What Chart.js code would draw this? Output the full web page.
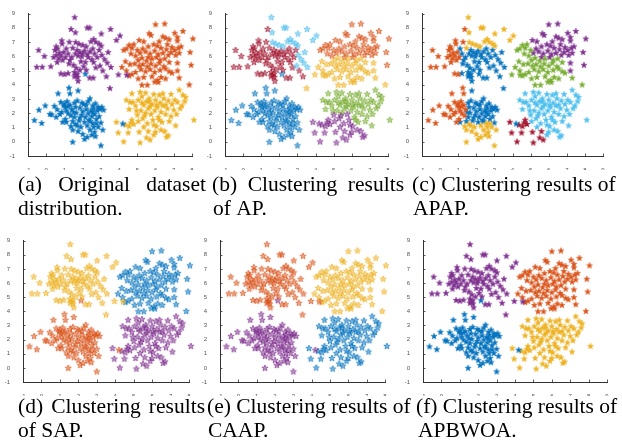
<!DOCTYPE html>
<html>
<head>
<meta charset="utf-8">
<script src="https://cdn.jsdelivr.net/npm/chart.js@4.4.1/dist/chart.umd.min.js"></script>
<style>
  body { margin: 0; background: #fff; }
  #page { position: relative; width: 622px; height: 442px; overflow: hidden; background: #fff; }
  #page canvas { position: absolute; }
</style>
</head>
<body>
<div id="page"><canvas id="captions" width="622" height="442" style="left:0;top:0"></canvas></div>
<script>
// the same dataset is plotted in every panel, only the cluster colours change
const topLeft = [
  [1.56, 8.75], [1.36, 7.92], [1.60, 7.69], [2.25, 8.02], [2.38, 8.02], [3.02, 7.60], [3.53, 7.92],
  [4.05, 7.46], [3.85, 7.15], [-0.42, 6.45], [-0.10, 6.02], [-0.52, 5.26], [-0.22, 5.26], [0.25, 5.30],
  [0.85, 7.12], [0.87, 6.90], [0.55, 6.70], [0.48, 6.45], [0.62, 6.55], [0.72, 6.25], [0.55, 6.10],
  [0.80, 6.05], [0.95, 6.30], [0.68, 5.85], [0.90, 5.75], [0.60, 5.60], [1.27, 7.02], [1.62, 7.00],
  [1.80, 6.88], [2.00, 6.80], [2.60, 7.22], [2.72, 7.02], [2.90, 6.90], [3.02, 6.75], [2.45, 7.05],
  [2.20, 6.70], [1.45, 6.60], [1.70, 6.45], [1.85, 6.30], [2.00, 6.20], [2.10, 6.40], [1.60, 6.20],
  [1.75, 6.05], [1.95, 6.00], [2.25, 6.15], [2.40, 6.35], [2.55, 6.55], [2.65, 6.20], [2.30, 5.95],
  [2.50, 5.80], [1.90, 5.65], [2.15, 5.60], [1.40, 5.95], [1.25, 5.50], [1.50, 5.40], [1.65, 5.20],
  [2.90, 6.45], [3.05, 6.10], [3.20, 5.80], [3.35, 5.55], [3.55, 5.25], [2.95, 5.35], [0.80, 4.80],
  [1.00, 4.75], [1.20, 4.82], [1.55, 4.90], [1.62, 4.70], [1.70, 4.78], [1.55, 4.60], [1.72, 4.55],
  [1.75, 4.28], [2.38, 4.50], [2.58, 4.50], [2.72, 5.22], [3.30, 4.60], [3.50, 3.77], [3.96, 4.73],
  [4.42, 4.70], [1.10, 6.55], [1.20, 6.20], [2.80, 5.95], [3.40, 6.30], [1.30, 5.75], [2.05, 5.30],
  [0.40, 5.95], [1.05, 5.95], [2.60, 5.60], [3.10, 5.00], [1.85, 5.05], [2.20, 5.05]
];
const topRight = [
  [6.00, 8.25], [6.50, 8.30], [5.65, 7.62], [5.75, 7.50], [7.50, 7.78], [7.05, 7.65], [8.05, 7.25],
  [6.40, 7.40], [6.55, 7.30], [6.75, 7.20], [7.20, 7.35], [7.20, 7.10], [5.10, 7.15], [5.35, 7.05],
  [4.55, 6.80], [4.70, 6.60], [4.40, 6.55], [5.30, 6.55], [5.60, 6.70], [5.90, 6.85], [6.10, 6.75],
  [6.30, 6.60], [6.60, 6.50], [6.90, 6.65], [7.05, 6.45], [7.25, 6.60], [7.40, 6.70], [7.90, 6.30],
  [4.65, 6.20], [4.90, 6.05], [5.15, 6.25], [5.45, 6.35], [5.70, 6.20], [5.95, 6.40], [6.15, 6.15],
  [6.40, 6.25], [6.70, 6.10], [6.85, 6.30], [7.10, 6.10], [7.30, 6.25], [5.05, 5.75], [5.25, 5.90],
  [5.50, 5.70], [5.80, 5.85], [6.05, 5.95], [6.25, 5.75], [6.50, 5.85], [4.35, 5.65], [4.60, 5.45],
  [4.85, 5.50], [5.10, 5.35], [5.30, 5.45], [5.55, 5.30], [5.75, 5.50], [6.00, 5.35], [6.20, 5.55],
  [6.45, 5.30], [6.75, 5.60], [7.20, 5.55], [7.95, 5.40], [4.15, 5.25], [4.40, 5.00], [4.70, 4.75],
  [4.90, 4.90], [5.20, 5.10], [5.45, 4.95], [5.70, 5.10], [5.95, 4.90], [6.25, 5.05], [6.55, 5.15],
  [6.75, 4.95], [7.20, 5.00], [4.55, 4.65], [5.05, 4.45], [5.35, 4.55], [5.80, 4.60], [6.10, 4.35],
  [6.30, 4.55], [6.55, 4.45], [5.95, 4.22], [6.15, 4.20], [5.25, 4.00], [5.55, 4.00], [7.30, 4.50],
  [7.85, 4.02], [6.90, 4.85], [4.80, 6.85], [5.00, 6.45], [6.20, 7.05], [4.25, 6.45], [5.60, 5.95],
  [6.65, 6.85]
];
const bottomLeft = [
  [-0.65, 1.52], [-0.40, 2.25], [-0.25, 1.32], [-0.05, 2.55], [0.20, 1.95], [0.30, 1.92], [0.45, 2.52],
  [0.60, 2.28], [0.55, 1.75], [0.65, 3.40], [0.80, 2.80], [0.85, 2.10], [0.95, 2.55], [1.00, 2.70],
  [1.05, 2.45], [1.05, 1.60], [1.10, 1.40], [1.15, 2.85], [1.20, 2.00], [1.25, 3.80], [1.30, 3.40],
  [1.30, 2.60], [1.35, 1.85], [1.35, 1.10], [1.40, 2.30], [1.45, 1.45], [1.45, 0.85], [1.45, 0.00],
  [1.55, 1.75], [1.55, 2.75], [1.60, 1.25], [1.65, 2.05], [1.70, 2.90], [1.75, 3.60], [1.75, 0.75],
  [1.80, 1.50], [1.85, 2.40], [1.90, 1.05], [1.95, 1.90], [2.00, 2.15], [2.00, 0.55], [2.05, 2.65],
  [2.10, 1.40], [2.10, 0.20], [2.15, 1.75], [2.20, 2.30], [2.25, 1.15], [2.30, 2.00], [2.30, 2.85],
  [2.35, 1.55], [2.40, 0.85], [2.40, 3.05], [2.45, 2.20], [2.50, 1.80], [2.50, 0.50], [2.55, 1.30],
  [2.55, 2.55], [2.60, 2.35], [2.65, 0.70], [2.65, 1.95], [2.70, 2.70], [2.70, 0.40], [2.75, 1.60],
  [2.80, 2.20], [2.85, 1.05], [2.85, 2.45], [2.90, 1.80], [2.95, 2.30], [3.00, -0.25], [3.00, 1.35],
  [3.05, 2.45], [3.15, 2.25], [3.10, 0.85], [2.15, 4.78], [4.20, 1.28], [1.20, 2.50], [0.90, 1.40],
  [1.60, 2.45], [2.20, 2.60], [1.85, 1.70], [2.40, 1.45], [1.10, 2.20], [2.60, 1.05], [1.70, 1.15],
  [1.95, 2.75], [2.55, 2.10], [1.50, 2.10], [2.75, 1.30], [0.75, 1.95], [2.25, 0.35]
];
const bottomRight = [
  [3.85, 1.40], [3.95, 0.65], [4.25, 0.02], [4.35, 1.20], [4.50, 0.65], [4.55, 1.10], [4.65, 1.35],
  [4.70, 1.55], [4.80, 1.25], [4.55, 2.30], [4.60, 2.80], [4.75, 2.80], [4.70, 3.40], [4.90, 2.55],
  [5.00, 1.90], [5.05, 2.95], [5.10, 0.70], [5.15, -0.05], [5.20, 2.20], [5.25, 3.20], [5.30, 1.65],
  [5.35, 2.60], [5.40, 1.85], [5.45, 3.45], [5.50, 2.85], [5.50, 0.30], [5.55, 1.30], [5.60, 2.35],
  [5.60, 0.75], [5.65, 3.05], [5.70, 0.15], [5.75, 1.95], [5.80, 2.65], [5.85, 1.55], [5.90, 0.50],
  [5.90, 3.35], [5.95, 2.20], [6.00, 2.95], [6.05, 1.10], [6.10, 2.45], [6.15, 1.75], [6.20, 3.30],
  [6.25, 2.75], [6.30, 2.10], [6.30, 0.85], [6.35, 1.40], [6.40, 2.55], [6.45, 3.05], [6.50, 0.75],
  [6.55, 1.95], [6.60, 0.35], [6.65, 2.35], [6.70, 2.90], [6.75, 1.45], [6.85, 1.80], [6.90, 2.65],
  [7.00, 2.25], [7.05, 2.95], [7.10, 1.15], [7.20, 2.80], [7.30, 3.65], [7.35, 2.35], [7.50, 3.30],
  [7.60, 2.85], [7.65, 3.15], [8.10, 1.55], [5.35, 1.05], [5.70, 2.50], [6.05, 2.60], [5.25, 2.75],
  [6.55, 2.60], [5.05, 1.45], [6.20, 1.55], [5.45, 2.05], [6.85, 3.35], [4.95, 2.20], [5.90, 1.20],
  [6.40, 3.40], [7.15, 1.95], [5.65, 2.85], [6.00, 0.70], [4.40, 2.95], [5.15, 3.50], [6.70, 0.45],
  [7.45, 2.55]
];
const xTicksShort = [-1, 8];
const xTicksLong = [-1, 9];
const yRange = [-1, 9];

const captionLines = [
  ['(a) Original dataset', 'distribution.'],
  ['(b) Clustering results', 'of AP.'],
  ['(c) Clustering results of', 'APAP.'],
  ['(d) Clustering results', 'of SAP.'],
  ['(e) Clustering results of', 'CAAP.'],
  ['(f) Clustering results of', 'APBWOA.']
];

const PALETTE = {
  blue: '#0072BD', orange: '#D95319', yellow: '#EDB120', purple: '#7E2F8E',
  green: '#77AC30', cyan: '#4DBEEE', red: '#A2142F'
};

// cluster labels found by each method
function colorA(g) { return {TL: 'purple', TR: 'orange', BL: 'blue', BR: 'yellow'}[g]; }
function colorB(g, x, y) {
  if (g === 'TL') {
    if ((y > 6.6 && x > 1.5) || (x > 2.9 && y > 5.0)) return 'cyan';
    if (x > 3.4 && y < 5) return 'yellow';
    return 'red';
  }
  if (g === 'TR') return (y < 5.95 && !(x > 7.7 && y > 5)) ? 'yellow' : 'orange';
  if (g === 'BL' && x < 3.5) return 'blue';
  return ((y < 2.05 && x < 6.0) || (y < 1.2 && x < 7.0)) ? 'purple' : 'green';
}
function colorC(g, x, y) {
  if (g === 'TL') {
    if (x > 3.8 && y < 5) return 'green';
    if (y > 6.55 && x > 1.4) return 'yellow';
    if (x < 1.1 || y > 6.55) return 'orange';
    return 'blue';
  }
  if (g === 'TR') return ((y > 5.9 && x > 5.0) || (x > 7.0 && y > 4.9)) ? 'purple' : 'green';
  if (g === 'BL') {
    if (x < 1.0 || (x < 1.5 && y > 1.5)) return 'orange';
    if (y < 1.35 && x < 3.5) return 'yellow';
    return 'blue';
  }
  return ((x < 4.9 && y < 1.65) || (x < 5.8 && y < 0.85)) ? 'red' : 'cyan';
}
function colorD(g) { return {TL: 'yellow', TR: 'blue', BL: 'orange', BR: 'purple'}[g]; }
function colorE(g) { return {TL: 'orange', TR: 'yellow', BL: 'purple', BR: 'blue'}[g]; }
function colorF(g) { return {TL: 'purple', TR: 'orange', BL: 'blue', BR: 'yellow'}[g]; }

const panels = [
  {left: 28, top: 11, right: 192, bottom: 156, xr: xTicksShort, soft: false, color: colorA, cap: [18, 206, 18], capY: [191, 215]},
  {left: 225, top: 11, right: 388, bottom: 156, xr: xTicksShort, soft: true, color: colorB, cap: [212, 404, 213], capY: [191, 215]},
  {left: 422, top: 11, right: 603, bottom: 156, xr: xTicksLong, soft: false, color: colorC, cap: [412, 0, 413], capY: [191, 215]},
  {left: 23, top: 238, right: 189, bottom: 382, xr: xTicksShort, soft: true, color: colorD, cap: [18, 205, 18], capY: [413, 437]},
  {left: 220, top: 238, right: 385, bottom: 382, xr: xTicksShort, soft: true, color: colorE, cap: [207, 0, 208], capY: [413, 437]},
  {left: 423, top: 238, right: 607, bottom: 382, xr: xTicksLong, soft: false, color: colorF, cap: [416, 0, 418], capY: [413, 437]}
];

const groups = [['TL', topLeft], ['TR', topRight], ['BL', bottomLeft], ['BR', bottomRight]];

function makeStar(color, soft) {
  const c = document.createElement('canvas');
  c.width = 10; c.height = 10;
  const g = c.getContext('2d');
  g.beginPath();
  for (let i = 0; i < 10; i++) {
    const r = i % 2 ? 1.35 : 3.3;
    const a = -Math.PI / 2 + i * Math.PI / 5;
    g.lineTo(5 + r * Math.cos(a), 5.3 + r * Math.sin(a));
  }
  g.closePath();
  g.fillStyle = color;
  g.globalAlpha = soft ? 0.5 : 1;
  g.fill();
  g.globalAlpha = soft ? 0.9 : 0.8;
  g.strokeStyle = color;
  g.lineWidth = soft ? 0.7 : 0.5;
  g.stroke();
  return c;
}

// matlab style ticks pointing into the axes
const innerTicks = {
  id: 'innerTicks',
  afterDraw(chart) {
    const {ctx, chartArea: a, scales: {x, y}} = chart;
    ctx.save();
    ctx.strokeStyle = '#333';
    ctx.lineWidth = 0.8;
    ctx.beginPath();
    x.ticks.forEach(t => {
      const px = Math.round(x.getPixelForValue(t.value)) + 0.5;
      ctx.moveTo(px, a.bottom); ctx.lineTo(px, a.bottom - 2.5);
    });
    y.ticks.forEach(t => {
      const py = Math.round(y.getPixelForValue(t.value)) + 0.5;
      ctx.moveTo(a.left, py); ctx.lineTo(a.left + 2.5, py);
    });
    ctx.stroke();
    ctx.restore();
  }
};

function tickFont() {
  return {size: 6, family: 'Liberation Sans'};
}

const page = document.getElementById('page');

panels.forEach(p => {
  const cv = document.createElement('canvas');
  cv.width = p.right - p.left + 30;
  cv.height = p.bottom - p.top + 20;
  cv.style.left = (p.left - 22) + 'px';
  cv.style.top = (p.top - 6) + 'px';
  page.appendChild(cv);

  const byColor = {};
  groups.forEach(([name, pts]) => {
    pts.forEach(([x, y]) => {
      const c = p.color(name, x, y);
      (byColor[c] = byColor[c] || []).push({x, y});
    });
  });
  const datasets = Object.keys(byColor).map(c => ({
    data: byColor[c],
    pointStyle: makeStar(PALETTE[c], p.soft),
    pointRadius: 3.5,
    clip: false
  }));

  new Chart(cv, {
    type: 'scatter',
    data: {datasets},
    options: {
      responsive: false,
      animation: false,
      events: [],
      layout: {padding: {left: 0, top: 6, right: 8, bottom: 0}},
      plugins: {legend: {display: false}, tooltip: {enabled: false}},
      scales: {
        x: {
          type: 'linear', min: p.xr[0], max: p.xr[1],
          afterFit: s => { s.height = 14; },
          ticks: {stepSize: 1, autoSkip: false, maxRotation: 0, padding: 3, color: '#555', font: tickFont()},
          grid: {display: false},
          border: {color: '#333', width: 1}
        },
        y: {
          type: 'linear', min: yRange[0], max: yRange[1],
          afterFit: s => { s.width = 22; },
          ticks: {stepSize: 1, autoSkip: false, padding: 5, color: '#555', font: tickFont()},
          grid: {display: false},
          border: {color: '#333', width: 1}
        }
      }
    },
    plugins: [innerTicks]
  });
});

// captions, first line justified like the paper's subfigure captions
const cctx = document.getElementById('captions').getContext('2d');
cctx.fillStyle = '#000';
cctx.font = '21.5px "Liberation Serif"';
cctx.textBaseline = 'alphabetic';

function drawLine(text, x0, x1, y) {
  const words = text.split(' ');
  const ww = words.map(w => cctx.measureText(w).width);
  const total = ww.reduce((s, v) => s + v, 0);
  const space = cctx.measureText(' ').width;
  let gap = space;
  if (x1 && words.length > 1) gap = Math.max(space, (x1 - x0 - total) / (words.length - 1));
  let x = x0;
  words.forEach((w, i) => { cctx.fillText(w, x, y); x += ww[i] + gap; });
}

panels.forEach((p, i) => {
  drawLine(captionLines[i][0], p.cap[0], p.cap[1], p.capY[0]);
  drawLine(captionLines[i][1], p.cap[2], 0, p.capY[1]);
});
</script>
</body>
</html>
